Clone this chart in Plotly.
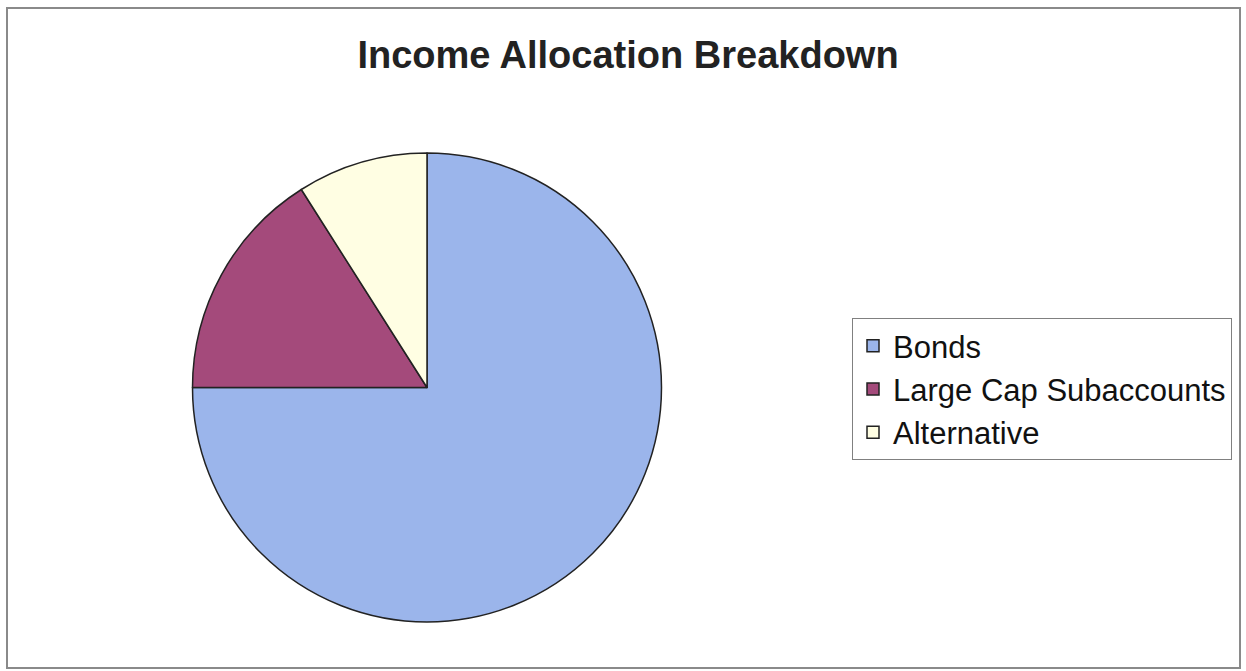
import plotly.graph_objects as go

categories = ["Bonds", "Large Cap Subaccounts", "Alternative"]
values = [75, 16, 9]
colors = ["#9BB5EB", "#A44A7B", "#FFFEE3"]

W, H = 1246, 671
fig = go.Figure(go.Pie(
    labels=categories, values=values, sort=False, direction="clockwise", rotation=0,
    marker=dict(colors=colors, line=dict(color="#222222", width=1.5)),
    textinfo="none", hoverinfo="label+percent",
    domain=dict(x=[192 / W, 662 / W], y=[1 - 622 / H, 1 - 153 / H]),
))
fig.update_layout(
    width=W, height=H, margin=dict(l=0, r=0, t=0, b=0),
    paper_bgcolor="white", plot_bgcolor="white",
    title=dict(text="<b>Income Allocation Breakdown</b>", x=628 / W, xanchor="center",
               y=1 - 55 / H, yanchor="middle",
               font=dict(family="Liberation Sans, Arial", size=38, color="#222222")),
    legend=dict(x=852 / W, xanchor="left", y=1 - 318 / H, yanchor="top",
                bordercolor="#808080", borderwidth=1, bgcolor="white",
                font=dict(family="Liberation Sans, Arial", size=31, color="#111111")),
    shapes=[dict(type="rect", xref="paper", yref="paper", x0=7 / W, x1=1240 / W,
                 y0=1 - 668 / H, y1=1 - 8 / H, line=dict(color="#8a8a8a", width=2))],
)
fig.write_html("out.html")
